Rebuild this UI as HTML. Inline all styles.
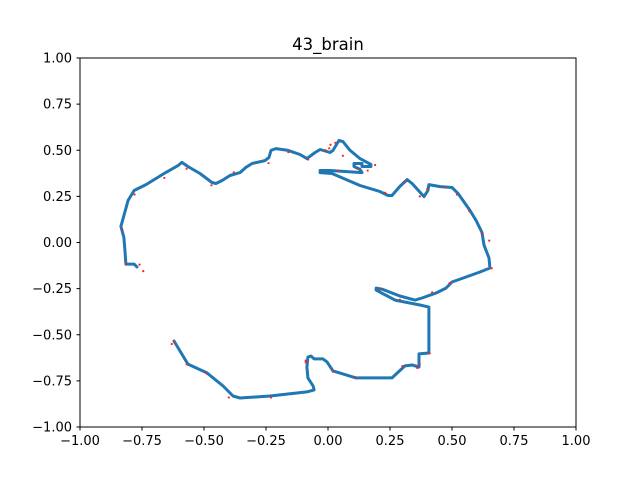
<!DOCTYPE html>
<html><head><meta charset="utf-8"><style>
body{margin:0;background:#fff}
svg{display:block;font-family:"DejaVu Sans","Liberation Sans",sans-serif}
</style></head><body>
<svg id="chart" width="640" height="480">
<text x="328" y="50" font-size="16.5" text-anchor="middle">43_brain</text>
<g id="plot"></g>
<rect x="80" y="58" width="496" height="369" fill="none" stroke="#000" stroke-width="1"/>
<g id="axes"></g>
</svg>
<script>
const xTicks=[-1,-0.75,-0.5,-0.25,0,0.25,0.5,0.75,1];
const yTicks=[-1,-0.75,-0.5,-0.25,0,0.25,0.5,0.75,1];
const xTickLabels=["−1.00","−0.75","−0.50","−0.25","0.00","0.25","0.50","0.75","1.00"];
const yTickLabels=["−1.00","−0.75","−0.50","−0.25","0.00","0.25","0.50","0.75","1.00"];
const pathX=[-0.770,-0.782,-0.815,-0.819,-0.823,-0.835,-0.806,-0.782,-0.734,-0.661,-0.605,-0.589,-0.565,-0.516,-0.468,-0.452,-0.427,-0.395,-0.355,-0.331,-0.306,-0.254,-0.238,-0.230,-0.210,-0.161,-0.113,-0.085,-0.052,-0.032,0.008,0.020,0.044,0.060,0.089,0.129,0.173,0.173,0.137,0.137,0.105,0.105,0.129,0.137,0.069,0.008,-0.032,-0.032,0.016,0.129,0.210,0.242,0.258,0.290,0.319,0.339,0.387,0.403,0.407,0.452,0.500,0.524,0.573,0.597,0.621,0.629,0.649,0.653,0.613,0.500,0.476,0.435,0.379,0.351,0.290,0.218,0.194,0.194,0.270,0.371,0.407,0.407,0.367,0.367,0.339,0.310,0.258,0.113,0.020,-0.004,-0.020,-0.056,-0.069,-0.081,-0.085,-0.081,-0.060,-0.056,-0.085,-0.234,-0.355,-0.383,-0.423,-0.488,-0.565,-0.621];
const pathY=[-0.133,-0.117,-0.117,-0.041,0.027,0.087,0.228,0.282,0.314,0.374,0.417,0.434,0.412,0.374,0.325,0.320,0.336,0.363,0.379,0.407,0.428,0.444,0.461,0.499,0.509,0.499,0.477,0.455,0.488,0.504,0.488,0.499,0.553,0.547,0.499,0.455,0.423,0.412,0.412,0.428,0.428,0.412,0.396,0.379,0.385,0.390,0.390,0.379,0.374,0.309,0.276,0.255,0.255,0.304,0.341,0.320,0.249,0.282,0.314,0.303,0.298,0.266,0.173,0.119,0.054,-0.014,-0.084,-0.138,-0.160,-0.214,-0.247,-0.274,-0.301,-0.312,-0.290,-0.253,-0.247,-0.258,-0.312,-0.339,-0.350,-0.599,-0.604,-0.675,-0.664,-0.669,-0.734,-0.734,-0.696,-0.647,-0.631,-0.631,-0.615,-0.621,-0.675,-0.734,-0.778,-0.799,-0.810,-0.832,-0.843,-0.832,-0.778,-0.707,-0.659,-0.534];
const redX=[-0.76,-0.745,-0.815,-0.83,-0.78,-0.66,-0.57,-0.47,-0.38,-0.24,-0.16,-0.08,-0.01,0.01,0.005,0.03,0.06,0.19,0.04,0.12,0.16,0.23,0.31,0.37,0.40,0.47,0.52,0.57,0.62,0.65,0.66,0.49,0.42,0.21,0.29,0.41,0.37,0.36,0.30,0.11,0.02,-0.09,-0.09,-0.23,-0.40,-0.49,-0.57,-0.63,-0.62];
const redY=[-0.12,-0.155,-0.115,0.07,0.26,0.35,0.40,0.31,0.38,0.43,0.49,0.45,0.50,0.53,0.51,0.54,0.47,0.42,0.39,0.40,0.39,0.27,0.33,0.25,0.29,0.30,0.26,0.17,0.05,0.01,-0.14,-0.22,-0.27,-0.25,-0.31,-0.60,-0.66,-0.68,-0.67,-0.73,-0.70,-0.65,-0.64,-0.84,-0.84,-0.71,-0.66,-0.55,-0.54];
const NS="http://www.w3.org/2000/svg";
const sx=v=>328+v*248, sy=v=>242.5-v*184.5;
const plot=document.getElementById('plot'), axes=document.getElementById('axes');
let d=pathX.map((x,i)=>(i?'L':'M')+sx(x).toFixed(1)+','+sy(pathY[i]).toFixed(1)).join(' ');
const p=document.createElementNS(NS,'path');
p.setAttribute('d',d);p.setAttribute('fill','none');p.setAttribute('stroke','#1f77b4');p.setAttribute('stroke-width','3');p.setAttribute('stroke-linejoin','round');p.setAttribute('stroke-linecap','round');


plot.appendChild(p);
redX.forEach((x,i)=>{const c=document.createElementNS(NS,'circle');
c.setAttribute('cx',sx(x));c.setAttribute('cy',sy(redY[i]));c.setAttribute('r','1.1');c.setAttribute('fill','#ff2020');


plot.appendChild(c);});
xTicks.forEach((v,i)=>{const x=sx(v);
const l=document.createElementNS(NS,'line');l.setAttribute('x1',x);l.setAttribute('x2',x);l.setAttribute('y1',427);l.setAttribute('y2',430.5);l.setAttribute('stroke','#000');


axes.appendChild(l);
const t=document.createElementNS(NS,'text');t.setAttribute('x',x);t.setAttribute('y',445);t.setAttribute('font-size','13');t.setAttribute('text-anchor','middle');t.textContent=xTickLabels[i];


axes.appendChild(t);});
yTicks.forEach((v,i)=>{const y=sy(v);
const l=document.createElementNS(NS,'line');l.setAttribute('x1',76.5);l.setAttribute('x2',80);l.setAttribute('y1',y);l.setAttribute('y2',y);l.setAttribute('stroke','#000');


axes.appendChild(l);
const t=document.createElementNS(NS,'text');t.setAttribute('x',72);t.setAttribute('y',y+4.5);t.setAttribute('font-size','13');t.setAttribute('text-anchor','end');t.textContent=yTickLabels[i];


axes.appendChild(t);});
</script>
</body></html>
